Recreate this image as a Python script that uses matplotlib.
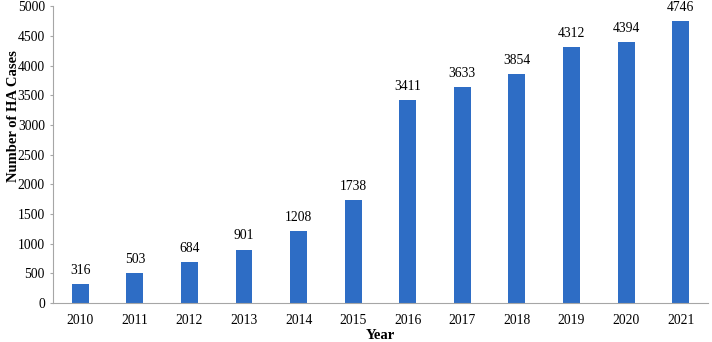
import matplotlib.pyplot as plt

# Data
years = ['2010', '2011', '2012', '2013', '2014', '2015',
         '2016', '2017', '2018', '2019', '2020', '2021']
cases = [316, 503, 684, 901, 1208, 1738, 3411, 3633, 3854, 4312, 4394, 4746]

plt.rcParams['font.family'] = ['Liberation Serif', 'DejaVu Serif']

fig = plt.figure(figsize=(7.12, 3.42), dpi=100)
ax = fig.add_axes([0.0744, 0.114, 0.920, 0.868])

x = range(len(years))
bars = ax.bar(x, cases, width=0.31, color='#2E6DC5')

for xi, v in zip(x, cases):
    ax.text(xi, v + 120, str(v), ha='center', va='bottom', fontsize=9.8)

ax.set_xlim(-0.5, len(years) - 0.5)
ax.set_ylim(0, 5000)
ax.set_yticks(range(0, 5001, 500))
ax.set_xticks(list(x))
ax.set_xticklabels(years)

ax.spines['top'].set_visible(False)
ax.spines['right'].set_visible(False)
ax.spines['left'].set_color('#A6A6A6')
ax.spines['bottom'].set_color('#A6A6A6')
ax.tick_params(axis='y', colors='#A6A6A6', labelcolor='black', labelsize=9.8, length=2.2, pad=3.6)
ax.tick_params(axis='x', length=0, labelsize=9.8, pad=8)

ax.set_xlabel('Year', fontweight='bold', fontsize=10.5, labelpad=1)
ax.set_ylabel('Number of HA Cases', fontweight='bold', fontsize=10.5)
# the axis title sits above the middle of the axis in the original
ax.yaxis.set_label_coords(-0.050, 0.63)

fig.savefig('out.png', dpi=100)
